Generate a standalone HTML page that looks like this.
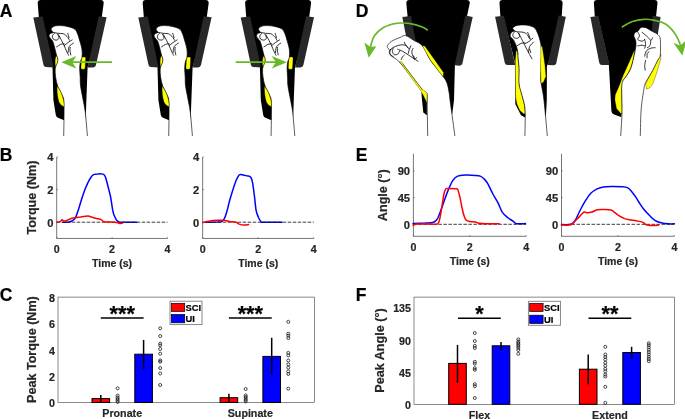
<!DOCTYPE html>
<html><head><meta charset="utf-8"><title>Figure</title>
<style>
html,body{margin:0;padding:0;background:#fff;}
svg{display:block;font-family:"Liberation Sans",sans-serif;font-weight:bold;}
</style></head><body>
<svg width="685" height="419" viewBox="0 0 685 419">
<rect width="685" height="419" fill="#fff"/>
<defs><g id="devA">
<path d="M37.7,3 Q37.7,0 40.7,0 L100.7,0 Q103.7,0 103.7,3 L101.8,17 L88,66 L87.6,67 L85.8,116 L85.6,119.6 L63.5,119.9 L58,117.7 Q56.2,117 55.8,115 L53.4,100 L52.5,67 L42,17 L38.8,17 Z" fill="#000"/>
<path d="M33.3,17.6 L42.7,16.4 L53.6,67.5 L46,67 Q44,67 43.5,65 Z" fill="#282828"/>
<path d="M98.7,16.3 L106.6,17.3 L96,65 Q95.5,67.4 93,67.4 L87.6,67.4 Z" fill="#282828"/>
<ellipse cx="56.6" cy="62.2" rx="1.5" ry="6.2" fill="#ffff00" stroke="#000" stroke-width="0.3"/>
<rect x="81.2" y="57" width="4.2" height="12.2" rx="1.2" fill="#ffff00" stroke="#000" stroke-width="0.3" transform="rotate(3 83.3 63)"/>
<path d="M63.7,136.0 C63.8,130.6 64.2,110.6 64.0,103.8 C63.8,97.0 63.2,97.9 62.2,95.0 C61.2,92.1 58.9,89.2 57.8,86.3 C56.7,83.4 56.1,80.4 55.7,77.5 C55.3,74.6 54.9,71.4 55.2,68.8 C55.5,66.2 57.2,63.8 57.6,62.0 C58.0,60.2 57.8,59.1 57.6,58.0 C57.4,56.9 57.1,57.1 56.6,55.3 C56.1,53.5 55.1,49.4 54.5,47.0 C53.9,44.6 53.3,42.5 52.7,41.2 C52.1,39.9 51.5,39.9 50.9,39.0 C50.3,38.1 49.2,36.8 49.1,35.9 C49.0,35.0 49.8,34.1 50.5,33.5 C51.2,32.9 52.9,32.9 53.1,32.4 C53.3,31.9 51.9,31.1 51.6,30.5 C51.3,29.9 51.0,29.2 51.3,28.6 C51.6,28.0 52.4,27.1 53.5,26.6 C54.6,26.1 55.9,25.7 58.0,25.6 C60.1,25.5 63.4,25.7 66.0,26.2 C68.6,26.7 71.9,27.5 73.8,28.6 C75.7,29.7 76.2,30.9 77.2,33.0 C78.2,35.1 79.0,38.3 79.8,41.0 C80.6,43.7 81.5,46.3 81.9,49.0 C82.3,51.7 82.3,54.8 82.0,57.0 C81.7,59.2 80.7,60.0 80.3,62.0 C79.9,64.0 79.7,66.1 79.7,68.8 C79.7,71.5 80.1,75.1 80.2,78.0 C80.3,80.9 80.1,82.6 80.6,86.3 C81.1,90.0 82.4,95.9 83.2,100.3 C84.0,104.7 84.6,106.5 85.3,112.5 C86.0,118.5 87.1,132.1 87.4,136.0" fill="#fff" stroke="#000" stroke-width="0.65"/>
<path d="M57,86.3 C57,92 57.5,98 59,102 C60.5,105 62.5,106.4 64,106.4 L64,103.8 C63.5,98 61,91 57,86.3Z" fill="#ffff00" stroke="#000" stroke-width="0.3"/>
<path d="M53.1,32.4 C53.9,32.5 56.3,33.0 58.0,33.3 C59.7,33.5 61.9,33.3 63.3,33.7 C64.6,34.1 65.1,34.8 65.9,35.5 C66.7,36.1 67.5,36.9 68.1,37.7 C68.7,38.5 69.2,39.9 69.5,40.3" fill="none" stroke="#000" stroke-width="0.8" stroke-linecap="round"/>
<path d="M58.4,34.6 C58.9,35.5 60.5,38.5 61.5,40.3 C62.5,42.2 63.3,43.9 64.2,45.6 C65.0,47.4 65.6,49.3 66.4,50.9 C67.1,52.5 68.2,54.6 68.6,55.3" fill="none" stroke="#000" stroke-width="0.8" stroke-linecap="round"/>
<path d="M56.6,46.9 C57.3,46.5 59.4,44.8 60.6,44.3 C61.9,43.8 63.6,43.9 64.2,43.9" fill="none" stroke="#000" stroke-width="0.8" stroke-linecap="round"/>
<path d="M64.2,45.6 C64.8,45.1 66.8,43.5 68.1,42.5 C69.5,41.6 71.4,40.3 72.1,39.9" fill="none" stroke="#000" stroke-width="0.8" stroke-linecap="round"/>
<path d="M68.1,52.7 C68.2,51.9 68.3,49.4 68.6,48.3 C68.9,47.1 69.1,46.5 69.9,45.6 C70.7,44.8 72.8,43.6 73.4,43.1" fill="none" stroke="#000" stroke-width="0.8" stroke-linecap="round"/>
<path d="M70.8,54.9 C70.6,54.1 70.0,51.3 69.9,50.0 C69.8,48.8 70.3,47.8 70.3,47.4" fill="none" stroke="#000" stroke-width="0.8" stroke-linecap="round"/>
<path d="M67.7,33.3 C67.8,33.7 68.3,35.2 68.6,35.9 C68.8,36.6 68.9,37.4 69.0,37.7" fill="none" stroke="#000" stroke-width="0.8" stroke-linecap="round"/>
<path d="M54.6,33.1 C54.2,33.5 52.7,34.9 52.4,35.9 C52.2,36.9 52.5,38.3 53.1,39.0 C53.7,39.7 55.2,40.2 56.2,40.1 C57.2,40.1 58.5,39.3 58.9,38.6 C59.2,37.8 58.8,36.5 58.5,35.7 C58.2,35.0 57.3,34.4 57.1,34.1" fill="none" stroke="#000" stroke-width="0.8" stroke-linecap="round"/>
</g></defs>
<use href="#devA"/>
<use href="#devA" x="105"/>
<use href="#devA" x="207.4"/>
<path d="M112.0,62.2 L69.3,62.2" stroke="#68b828" stroke-width="1.7" fill="none"/><path d="M61.3,62.2 L76.3,55.9 L72.3,62.2 L76.3,68.5 Z" fill="#68b828"/>
<path d="M235.7,62.2 L278.8,62.2" stroke="#68b828" stroke-width="1.7" fill="none"/><path d="M286.8,62.2 L271.8,55.9 L275.8,62.2 L271.8,68.5 Z" fill="#68b828"/>
<g id="D1">
<path d="M406.3,3 Q406.3,0 409.3,0 L466.8,0 Q469.8,0 469.8,3 L467.1,15.8 L458,60 L454.9,65.3 L454,100.3 L452.2,114.3 L440,100 L420,50 L408,30 L407.6,16.6 Z" fill="#000"/>
<path d="M402.3,16.9 L411,16.1 L416,42 L406,36 Z" fill="#282828"/>
<path d="M465.4,15.6 L472.7,17 L462.4,63.6 Q461.9,65.7 459.5,65.7 L454.6,65.2 Z" fill="#282828"/>
<path d="M421.4,92 L422,100 L423.3,112.6 L426.9,115.2 L426.9,100 Z" fill="#000"/>
<path d="M454.9,136.0 C454.2,130.6 451.5,111.1 450.5,103.8 C449.5,96.5 449.7,95.8 449.0,92.0 C448.3,88.2 447.9,84.7 446.1,81.0 C444.3,77.3 440.6,73.5 438.0,70.0 C435.4,66.5 432.9,64.0 430.3,60.0 C427.7,56.0 425.2,49.1 422.5,45.9 C419.8,42.6 416.8,42.2 414.0,40.5 C411.2,38.8 407.9,36.1 405.6,35.6 C403.3,35.1 402.4,36.5 400.0,37.5 C397.6,38.5 393.6,39.9 391.5,41.3 C389.4,42.7 388.1,44.6 387.5,45.8 C386.9,47.0 387.6,47.7 388.0,48.4 C388.4,49.1 389.5,49.4 389.7,50.2 C389.9,51.0 388.9,52.2 389.3,53.3 C389.8,54.4 390.8,55.5 392.4,56.8 C393.9,58.1 395.7,58.2 398.6,61.2 C401.5,64.2 406.2,70.2 410.0,75.0 C413.8,79.8 418.8,86.8 421.6,89.8 C424.4,92.8 425.9,90.8 426.8,93.3 C427.7,95.8 427.1,97.9 427.2,105.0 C427.3,112.1 427.6,130.8 427.7,136.0" fill="#fff" stroke="#000" stroke-width="0.65"/>
<path d="M399.5,61.5 L401.5,61.8 L421.5,88.5 L427,92.8 L427,103 L421.4,91.5 Z" fill="#ffff00" stroke="#000" stroke-width="0.3"/>
<path d="M422.4,45.7 L424.8,46 L443.4,72.2 L443.2,77 L430.3,60 Z" fill="#ffff00" stroke="#000" stroke-width="0.3"/>
<path d="M402.5,63.5 L422.5,90" stroke="#000" stroke-width="0.4" fill="none"/>
<path d="M389.7,50.2 C390.3,49.7 391.8,48.3 393.3,47.5 C394.7,46.7 396.8,45.8 398.6,45.3 C400.3,44.9 402.5,44.7 403.9,44.9 C405.2,45.0 405.6,45.5 406.5,46.2 C407.4,46.9 408.7,48.4 409.2,48.9" fill="none" stroke="#000" stroke-width="0.8" stroke-linecap="round"/>
<path d="M391.0,49.3 C390.8,49.8 389.7,51.4 389.7,52.4 C389.7,53.4 390.5,54.8 391.0,55.5 C391.6,56.1 392.9,56.2 393.3,56.4" fill="none" stroke="#000" stroke-width="0.8" stroke-linecap="round"/>
<path d="M393.3,48.0 C393.1,48.6 392.2,50.4 392.4,51.5 C392.5,52.6 393.3,54.2 394.1,54.6 C395.0,55.0 396.7,54.8 397.7,54.2 C398.6,53.5 399.5,51.2 399.9,50.6" fill="none" stroke="#000" stroke-width="0.8" stroke-linecap="round"/>
<path d="M397.7,49.3 C398.6,49.7 401.1,50.5 403.0,51.5 C404.9,52.5 407.1,54.2 409.2,55.5 C411.2,56.8 413.9,58.5 415.3,59.5 C416.8,60.4 417.5,60.9 418.0,61.2" fill="none" stroke="#000" stroke-width="0.8" stroke-linecap="round"/>
<path d="M404.3,42.2 C404.5,42.7 405.0,43.9 405.6,44.9 C406.3,45.8 407.8,47.5 408.3,48.0" fill="none" stroke="#000" stroke-width="0.8" stroke-linecap="round"/>
<path d="M410.9,45.8 C410.6,46.4 409.6,48.5 409.2,49.7 C408.7,51.0 408.4,52.7 408.3,53.3" fill="none" stroke="#000" stroke-width="0.8" stroke-linecap="round"/>
<path d="M413.1,48.4 C412.9,48.9 411.9,50.3 411.8,51.5 C411.7,52.7 412.2,54.2 412.7,55.5 C413.1,56.8 414.2,58.8 414.5,59.5" fill="none" stroke="#000" stroke-width="0.8" stroke-linecap="round"/>
<path d="M401.2,59.5 C401.4,59.0 402.0,57.5 402.5,56.8 C403.0,56.1 404.0,55.3 404.3,55.0" fill="none" stroke="#000" stroke-width="0.8" stroke-linecap="round"/>
<path d="M413.6,55.9 C413.8,56.4 414.4,58.3 414.9,58.6 C415.4,58.9 416.4,57.8 416.7,57.7" fill="none" stroke="#000" stroke-width="0.8" stroke-linecap="round"/>
</g>
<path d="M427.8,30.3 C427.0,29.8 425.1,28.3 422.8,27.3 C420.5,26.3 417.2,25.1 413.9,24.4 C410.5,23.6 406.0,23.0 402.7,23.0 C399.3,22.9 396.9,23.0 393.5,23.8 C390.2,24.7 385.5,26.2 382.3,28.2 C379.2,30.2 376.5,32.9 374.6,35.6 C372.8,38.2 372.0,41.6 371.2,44.1 C370.4,46.7 370.3,49.7 370.1,50.8" fill="none" stroke="#68b828" stroke-width="1.7"/>
<path d="M368.7,57.8 L364.4,42.6 L370.5,47 L376.3,46.2 Z" fill="#68b828"/>
<g id="D2">
<path d="M499.5,3 Q499.5,0 502.5,0 L559.6,0 Q562.6,0 562.6,3 L561.7,16.5 L548,64 L546.9,66 L546.8,100 L545.9,116 L525.2,117.5 L521,115.2 L515.3,104 L515.3,64 L503.5,17 L500.4,16.5 Z" fill="#000"/>
<path d="M495.1,16.8 L503.9,15.7 L515.2,65 L507.5,65 Q505.3,65 504.8,63 Z" fill="#282828"/>
<path d="M558.7,15.4 L565.8,16.7 L556.2,63.5 Q555.7,65.2 553.5,65.2 L547.5,65 Z" fill="#282828"/>
<path d="M516.2,50.5 L517.6,51.5 L519.1,68.7 L519.1,84 L522,95.4 L524.5,105 L525.2,113.6 L523.9,113.9 L519.8,110.5 L516.9,104 L515.6,97 L515.3,60 Z" fill="#ffff00" stroke="#000" stroke-width="0.3"/>
<path d="M524.9,136.0 C525.0,132.3 525.3,118.8 525.2,113.6 C525.1,108.4 525.0,108.0 524.5,105.0 C524.0,102.0 522.9,98.9 522.0,95.4 C521.1,91.9 519.6,88.5 519.1,84.0 C518.6,79.5 519.3,73.2 519.1,68.7 C518.9,64.2 518.2,59.7 518.0,57.0 C517.8,54.3 518.2,54.5 517.9,52.6 C517.6,50.6 516.9,47.7 516.2,45.6 C515.4,43.4 514.5,41.5 513.5,39.9 C512.5,38.4 510.6,37.5 510.2,36.3 C509.9,35.0 510.7,33.3 511.4,32.4 C512.1,31.5 514.2,31.4 514.4,30.7 C514.6,29.9 512.2,28.9 512.7,28.0 C513.1,27.2 514.9,25.9 517.0,25.4 C519.2,24.9 523.0,24.7 525.8,25.1 C528.6,25.4 531.8,26.2 533.7,27.3 C535.6,28.5 536.0,29.7 537.0,31.9 C538.1,34.0 539.2,37.3 540.0,40.3 C540.8,43.3 541.3,46.6 541.6,49.9 C541.8,53.3 541.5,56.3 541.4,60.4 C541.3,64.6 540.8,71.2 540.8,75.0 C540.8,78.8 540.6,79.3 541.1,83.0 C541.6,86.7 542.8,91.1 543.6,97.3 C544.4,103.5 545.3,113.5 545.9,120.0 C546.5,126.5 547.1,133.3 547.3,136.0" fill="#fff" stroke="#000" stroke-width="0.65"/>
<path d="M540.8,46 L542.2,46.5 L543,51.5 L544.9,64.8 L545.9,76.3 L543.6,82 L541.1,83.5 L540.5,68.7 Z" fill="#ffff00" stroke="#000" stroke-width="0.3"/>
<path d="M514.4,31.2 C515.1,31.3 517.2,31.7 518.8,31.9 C520.4,32.1 522.6,31.9 524.1,32.4 C525.5,32.9 526.7,34.0 527.6,35.0 C528.4,36.1 529.0,38.0 529.3,38.5" fill="none" stroke="#000" stroke-width="0.8" stroke-linecap="round"/>
<path d="M518.8,33.3 C519.4,34.5 521.0,37.7 522.3,40.3 C523.6,42.9 525.1,46.0 526.7,49.1 C528.3,52.1 531.1,57.1 531.9,58.7" fill="none" stroke="#000" stroke-width="0.8" stroke-linecap="round"/>
<path d="M517.0,45.9 C517.7,45.5 519.6,43.9 520.9,43.4 C522.2,43.0 524.3,43.0 524.9,42.9" fill="none" stroke="#000" stroke-width="0.8" stroke-linecap="round"/>
<path d="M524.9,43.8 C525.7,43.4 528.0,42.1 529.3,41.2 C530.6,40.2 532.2,38.7 532.8,38.2" fill="none" stroke="#000" stroke-width="0.8" stroke-linecap="round"/>
<path d="M528.4,52.6 C528.6,51.5 528.8,48.2 529.7,46.4 C530.5,44.7 533.0,42.8 533.7,42.0" fill="none" stroke="#000" stroke-width="0.8" stroke-linecap="round"/>
<path d="M530.7,52.6 L529.7,49.1" fill="none" stroke="#000" stroke-width="0.8" stroke-linecap="round"/>
<path d="M527.6,32.4 C527.8,33.0 528.9,34.7 529.3,35.9 C529.7,37.1 530.0,38.8 530.2,39.4" fill="none" stroke="#000" stroke-width="0.8" stroke-linecap="round"/>
<path d="M515.1,31.4 C514.7,31.8 513.2,33.2 512.9,34.2 C512.7,35.2 513.0,36.6 513.6,37.3 C514.2,38.0 515.7,38.5 516.7,38.4 C517.7,38.4 519.0,37.6 519.4,36.9 C519.7,36.1 519.3,34.8 519.0,34.0 C518.7,33.3 517.8,32.7 517.6,32.4" fill="none" stroke="#000" stroke-width="0.8" stroke-linecap="round"/>
</g>
<g id="D3">
<path d="M593.9,3 Q593.9,0 596.9,0 L654.5,0 Q657.5,0 657.5,3 L656.1,16 L655,40 L640,60 L622,112.5 L621,117 L614,114.5 Q611.6,114 611.4,111 L608.8,63.5 L598,17 L594.8,16.5 Z" fill="#000"/>
<path d="M590.4,17.1 L598.3,16 L609.5,65 L602,65 Q599.8,65 599.3,63 Z" fill="#282828"/>
<path d="M652.6,15.6 L660.6,17 L657.2,38 L652,30 Z" fill="#282828"/>
<path d="M634.8,50 L633,60.5 L630.6,68.8 L626.5,76 L622.9,80.8 L621.7,88 L622,112.5 L621,113.8 L616.5,108.5 L614.9,100 L615.2,95 L619.3,85.5 L622.9,76 L628.8,62.9 L634.2,50.4 Z" fill="#ffff00" stroke="#000" stroke-width="0.3"/>
<path d="M661,54 L660.5,60 L657,72 L652.6,84.5 L649.5,88 L646.5,89 L645.6,83.6 L652.6,70.5 L657.9,60 Z" fill="#ffff00" stroke="#000" stroke-width="0.3"/>
<path d="M620.7,136.0 C620.9,132.1 621.8,120.5 622.0,112.5 C622.2,104.5 621.6,93.3 621.7,88.0 C621.9,82.7 622.1,82.8 622.9,80.8 C623.7,78.8 625.2,78.0 626.5,76.0 C627.8,74.0 629.5,71.4 630.6,68.8 C631.7,66.2 632.3,63.5 633.0,60.5 C633.7,57.5 634.6,53.4 635.1,50.8 C635.6,48.2 635.9,46.4 636.0,44.7 C636.0,42.9 636.0,41.8 635.6,40.3 C635.3,38.8 633.9,37.2 633.9,35.9 C633.8,34.6 634.4,33.1 635.1,32.4 C635.7,31.7 637.0,32.1 637.7,31.5 C638.4,31.0 638.7,29.6 639.5,28.9 C640.2,28.2 640.9,27.3 642.1,27.2 C643.3,27.0 644.7,27.3 646.5,28.0 C648.2,28.8 650.8,30.5 652.6,31.5 C654.4,32.6 656.3,33.1 657.5,34.2 C658.7,35.2 659.5,35.8 660.0,37.7 C660.5,39.6 660.5,42.5 660.5,45.6 C660.5,48.6 660.6,53.7 660.1,56.1 C659.7,58.5 659.2,57.6 657.9,60.0 C656.6,62.4 654.6,66.7 652.6,70.5 C650.6,74.3 647.1,79.6 645.6,82.8 C644.1,86.0 644.5,85.4 643.8,89.8 C643.1,94.2 641.8,101.3 641.2,109.0 C640.6,116.7 640.4,131.5 640.3,136.0" fill="#fff" stroke="#000" stroke-width="0.65"/>
<path d="M637.7,31.9 C638.0,32.6 639.5,34.7 639.5,35.9 C639.5,37.2 637.3,38.5 637.7,39.4 C638.1,40.3 640.9,41.2 642.1,41.2 C643.3,41.2 644.3,39.7 644.7,39.4" fill="none" stroke="#000" stroke-width="0.8" stroke-linecap="round"/>
<path d="M642.1,32.4 C642.7,32.8 644.6,34.2 645.6,35.0 C646.6,35.9 647.3,36.8 648.2,37.7 C649.1,38.5 650.1,40.3 650.8,40.3 C651.6,40.3 652.3,38.1 652.6,37.7" fill="none" stroke="#000" stroke-width="0.8" stroke-linecap="round"/>
<path d="M644.7,39.4 C644.9,40.3 645.6,43.2 645.6,44.7 C645.6,46.1 644.9,47.6 644.7,48.2" fill="none" stroke="#000" stroke-width="0.8" stroke-linecap="round"/>
<path d="M650.8,40.6 C650.7,41.5 650.6,44.4 650.0,45.6 C649.4,46.7 647.8,47.3 647.3,47.7" fill="none" stroke="#000" stroke-width="0.8" stroke-linecap="round"/>
<path d="M637.7,45.9 C638.4,45.8 640.9,45.2 642.1,45.2 C643.3,45.2 644.3,45.8 644.7,45.9" fill="none" stroke="#000" stroke-width="0.8" stroke-linecap="round"/>
<path d="M644.7,56.1 C645.0,55.2 645.4,52.1 646.5,50.8 C647.5,49.5 649.4,48.7 650.8,48.2 C652.3,47.7 654.5,47.7 655.2,47.7" fill="none" stroke="#000" stroke-width="0.8" stroke-linecap="round"/>
<path d="M647.0,57.8 C647.0,57.1 647.0,54.5 647.3,53.4 C647.7,52.4 648.8,52.0 649.1,51.7" fill="none" stroke="#000" stroke-width="0.8" stroke-linecap="round"/>
<path d="M645.6,60.4 C645.4,61.3 644.8,64.1 644.7,65.7 C644.7,67.3 645.2,69.3 645.2,70.1" fill="none" stroke="#000" stroke-width="0.8" stroke-linecap="round"/>
</g>
<path d="M621.8,27.2 C623.5,26.2 628.8,22.8 632.4,21.5 C636.1,20.2 639.9,19.5 643.7,19.3 C647.4,19.1 651.1,19.6 654.8,20.4 C658.5,21.2 662.8,22.3 666.0,24.3 C669.2,26.3 671.8,29.6 673.9,32.2 C676.0,34.8 677.3,37.7 678.4,40.0 C679.5,42.3 680.1,44.2 680.6,45.9 C681.1,47.6 681.2,49.3 681.3,49.9" fill="none" stroke="#68b828" stroke-width="1.7"/>
<path d="M682.3,55.5 L673.3,42.8 L680.2,45.8 L687,39.5 Z" fill="#68b828"/>
<text x="-0.2" y="16.9" font-size="17.50" text-anchor="start" fill="#000" stroke="#000" stroke-width="0.2">A</text>
<text x="-0.2" y="160.6" font-size="17.50" text-anchor="start" fill="#000" stroke="#000" stroke-width="0.2">B</text>
<text x="-0.2" y="301.2" font-size="17.50" text-anchor="start" fill="#000" stroke="#000" stroke-width="0.2">C</text>
<text x="355.7" y="17.0" font-size="17.50" text-anchor="start" fill="#000" stroke="#000" stroke-width="0.2">D</text>
<text x="355.7" y="160.6" font-size="17.50" text-anchor="start" fill="#000" stroke="#000" stroke-width="0.2">E</text>
<text x="355.7" y="301.2" font-size="17.50" text-anchor="start" fill="#000" stroke="#000" stroke-width="0.2">F</text>
<path d="M56.70,157.10 L56.70,238.45 L167.50,238.45" fill="none" stroke="#3c3c3c" stroke-width="0.7"/>
<path d="M56.70,157.00 h1.3" stroke="#3c3c3c" stroke-width="0.6"/>
<text x="53.4" y="161.4" font-size="11.20" text-anchor="end" fill="#262626" stroke="#262626" stroke-width="0.2">4</text>
<path d="M56.70,189.60 h1.3" stroke="#3c3c3c" stroke-width="0.6"/>
<text x="53.4" y="194.0" font-size="11.20" text-anchor="end" fill="#262626" stroke="#262626" stroke-width="0.2">2</text>
<path d="M56.70,222.20 h1.3" stroke="#3c3c3c" stroke-width="0.6"/>
<text x="53.4" y="226.6" font-size="11.20" text-anchor="end" fill="#262626" stroke="#262626" stroke-width="0.2">0</text>
<path d="M56.70,238.45 v-1.3" stroke="#3c3c3c" stroke-width="0.6"/>
<text x="56.7" y="253.4" font-size="10.70" text-anchor="middle" fill="#262626" stroke="#262626" stroke-width="0.2">0</text>
<path d="M112.10,238.45 v-1.3" stroke="#3c3c3c" stroke-width="0.6"/>
<text x="112.1" y="253.4" font-size="10.70" text-anchor="middle" fill="#262626" stroke="#262626" stroke-width="0.2">2</text>
<path d="M167.50,238.45 v-1.3" stroke="#3c3c3c" stroke-width="0.6"/>
<text x="167.5" y="253.4" font-size="10.70" text-anchor="middle" fill="#262626" stroke="#262626" stroke-width="0.2">4</text>
<text x="112.1" y="267.4" font-size="10.50" text-anchor="middle" fill="#262626" stroke="#262626" stroke-width="0.2">Time (s)</text>
<path d="M62.8,222.3 C63.8,222.3 67.4,222.4 69.0,222.1 C70.7,221.7 71.8,221.0 72.8,220.3 C73.9,219.6 74.5,219.3 75.3,217.8 C76.2,216.3 76.6,215.3 77.8,211.5 C79.1,207.8 81.2,200.0 82.9,195.2 C84.5,190.4 86.4,185.8 87.9,182.7 C89.3,179.5 90.6,177.8 91.6,176.4 C92.7,175.0 93.1,174.8 94.2,174.4 C95.2,174.0 96.5,173.9 97.9,173.9 C99.4,173.8 101.8,173.8 102.9,174.1 C104.1,174.5 104.3,174.7 104.9,175.9 C105.6,177.1 105.8,178.0 106.7,181.4 C107.6,184.8 109.4,191.4 110.5,196.5 C111.5,201.5 112.2,208.1 113.0,211.5 C113.7,215.0 114.4,215.8 115.0,217.3 C115.6,218.8 116.0,219.5 116.7,220.3 C117.5,221.1 118.2,221.7 119.3,222.1 C120.3,222.4 120.1,222.3 123.0,222.3 C126.0,222.4 134.5,222.3 136.8,222.3" fill="none" stroke="#0000ff" stroke-width="1.5" stroke-linejoin="round" stroke-linecap="round"/>
<path d="M56.7,222.20 L167.5,222.20" stroke="#1a1a1a" stroke-width="0.85" stroke-dasharray="3.5,1.5"/>
<path d="M57.2,222.3 C57.7,222.2 59.5,222.0 60.3,221.6 C61.1,221.2 61.4,219.9 62.0,219.8 C62.6,219.7 63.1,221.0 64.0,221.1 C64.9,221.2 66.3,220.6 67.3,220.3 C68.2,220.0 68.9,219.7 69.8,219.3 C70.7,218.9 71.1,218.4 72.8,218.1 C74.6,217.7 77.8,217.4 80.3,217.1 C82.9,216.7 86.0,216.1 87.9,216.1 C89.8,216.1 90.4,216.7 91.6,217.1 C92.9,217.4 93.9,217.9 95.4,218.3 C96.9,218.7 99.3,218.9 100.4,219.3 C101.6,219.7 101.8,220.2 102.4,220.6 C103.1,221.0 102.9,221.6 104.2,221.8 C105.5,222.1 108.4,222.0 110.5,222.1 C112.6,222.2 115.1,222.3 116.7,222.6 C118.4,222.8 119.5,223.5 120.5,223.6 C121.6,223.6 122.6,223.0 123.0,222.8" fill="none" stroke="#ff0000" stroke-width="1.5" stroke-linejoin="round" stroke-linecap="round"/>
<path d="M202.65,157.10 L202.65,238.45 L313.70,238.45" fill="none" stroke="#3c3c3c" stroke-width="0.7"/>
<path d="M202.65,157.00 h1.3" stroke="#3c3c3c" stroke-width="0.6"/>
<text x="199.3" y="161.4" font-size="11.20" text-anchor="end" fill="#262626" stroke="#262626" stroke-width="0.2">4</text>
<path d="M202.65,189.60 h1.3" stroke="#3c3c3c" stroke-width="0.6"/>
<text x="199.3" y="194.0" font-size="11.20" text-anchor="end" fill="#262626" stroke="#262626" stroke-width="0.2">2</text>
<path d="M202.65,222.20 h1.3" stroke="#3c3c3c" stroke-width="0.6"/>
<text x="199.3" y="226.6" font-size="11.20" text-anchor="end" fill="#262626" stroke="#262626" stroke-width="0.2">0</text>
<path d="M202.65,238.45 v-1.3" stroke="#3c3c3c" stroke-width="0.6"/>
<text x="202.7" y="253.4" font-size="10.70" text-anchor="middle" fill="#262626" stroke="#262626" stroke-width="0.2">0</text>
<path d="M258.18,238.45 v-1.3" stroke="#3c3c3c" stroke-width="0.6"/>
<text x="258.2" y="253.4" font-size="10.70" text-anchor="middle" fill="#262626" stroke="#262626" stroke-width="0.2">2</text>
<path d="M313.70,238.45 v-1.3" stroke="#3c3c3c" stroke-width="0.6"/>
<text x="313.7" y="253.4" font-size="10.70" text-anchor="middle" fill="#262626" stroke="#262626" stroke-width="0.2">4</text>
<text x="258.2" y="267.4" font-size="10.50" text-anchor="middle" fill="#262626" stroke="#262626" stroke-width="0.2">Time (s)</text>
<path d="M205.9,222.3 C207.8,222.3 214.5,222.2 217.2,222.1 C219.9,221.9 221.0,222.0 222.2,221.3 C223.5,220.6 223.9,219.7 224.7,217.8 C225.6,216.0 226.4,213.2 227.2,210.3 C228.1,207.3 228.5,204.6 229.7,200.2 C231.0,195.8 233.4,187.8 234.8,183.9 C236.1,180.1 236.9,178.7 237.8,177.1 C238.6,175.6 238.8,175.0 239.8,174.6 C240.8,174.3 242.3,174.9 243.6,175.1 C244.8,175.3 246.1,175.5 247.3,175.9 C248.5,176.2 249.7,176.2 250.6,177.1 C251.4,178.1 251.7,178.4 252.3,181.4 C253.0,184.4 253.7,190.4 254.3,195.2 C255.0,200.0 255.4,206.5 256.1,210.3 C256.8,214.0 257.8,215.9 258.6,217.8 C259.5,219.7 260.3,221.1 261.1,221.8 C262.0,222.6 260.2,222.2 263.6,222.3 C267.1,222.4 278.9,222.3 282.0,222.3" fill="none" stroke="#0000ff" stroke-width="1.5" stroke-linejoin="round" stroke-linecap="round"/>
<path d="M202.7,222.20 L313.7,222.20" stroke="#1a1a1a" stroke-width="0.85" stroke-dasharray="3.5,1.5"/>
<path d="M202.9,222.6 C204.0,222.3 207.3,221.4 209.7,221.1 C212.0,220.7 214.9,220.4 217.2,220.3 C219.5,220.2 221.4,220.1 223.5,220.3 C225.6,220.5 227.7,221.2 229.7,221.6 C231.8,221.9 234.4,221.9 236.0,222.3 C237.6,222.7 238.0,223.6 239.3,224.1 C240.5,224.5 242.0,225.0 243.6,225.1 C245.1,225.2 247.7,224.7 248.6,224.6" fill="none" stroke="#ff0000" stroke-width="1.5" stroke-linejoin="round" stroke-linecap="round"/>
<text x="35.7" y="197.5" font-size="12.60" text-anchor="middle" fill="#262626" stroke="#262626" stroke-width="0.2" transform="rotate(-90 35.7 197.5)">Torque (Nm)</text>
<path d="M413.40,153.80 L413.40,236.30 L526.20,236.30" fill="none" stroke="#3c3c3c" stroke-width="0.7"/>
<path d="M413.40,170.90 h1.3" stroke="#3c3c3c" stroke-width="0.6"/>
<text x="410.1" y="175.3" font-size="11.20" text-anchor="end" fill="#262626" stroke="#262626" stroke-width="0.2">90</text>
<path d="M413.40,197.60 h1.3" stroke="#3c3c3c" stroke-width="0.6"/>
<text x="410.1" y="202.0" font-size="11.20" text-anchor="end" fill="#262626" stroke="#262626" stroke-width="0.2">45</text>
<path d="M413.40,224.30 h1.3" stroke="#3c3c3c" stroke-width="0.6"/>
<text x="410.1" y="228.7" font-size="11.20" text-anchor="end" fill="#262626" stroke="#262626" stroke-width="0.2">0</text>
<path d="M413.40,236.30 v-1.3" stroke="#3c3c3c" stroke-width="0.6"/>
<text x="413.4" y="250.8" font-size="10.70" text-anchor="middle" fill="#262626" stroke="#262626" stroke-width="0.2">0</text>
<path d="M469.80,236.30 v-1.3" stroke="#3c3c3c" stroke-width="0.6"/>
<text x="469.8" y="250.8" font-size="10.70" text-anchor="middle" fill="#262626" stroke="#262626" stroke-width="0.2">2</text>
<path d="M526.20,236.30 v-1.3" stroke="#3c3c3c" stroke-width="0.6"/>
<text x="526.2" y="250.8" font-size="10.70" text-anchor="middle" fill="#262626" stroke="#262626" stroke-width="0.2">4</text>
<text x="469.8" y="264.6" font-size="10.50" text-anchor="middle" fill="#262626" stroke="#262626" stroke-width="0.2">Time (s)</text>
<path d="M413.1,223.6 C415.1,223.5 421.8,223.2 425.1,223.1 C428.4,222.9 430.9,223.0 432.6,222.6 C434.4,222.2 434.7,221.7 435.7,220.8 C436.6,219.9 437.0,219.9 438.2,217.3 C439.3,214.7 441.1,209.6 442.7,205.3 C444.3,200.9 446.0,195.5 447.7,191.4 C449.4,187.3 451.1,183.2 452.7,180.7 C454.3,178.1 455.2,177.3 457.2,176.4 C459.3,175.5 462.3,175.3 465.3,175.1 C468.3,175.0 472.8,175.2 475.3,175.4 C477.8,175.5 478.9,175.5 480.3,176.1 C481.8,176.7 482.9,177.6 484.1,178.9 C485.4,180.2 486.4,181.4 487.9,183.9 C489.3,186.4 491.2,190.8 492.9,194.0 C494.6,197.1 496.3,199.7 497.9,202.7 C499.5,205.8 500.8,209.8 502.4,212.3 C504.1,214.8 506.2,216.3 508.0,217.8 C509.7,219.3 511.6,220.1 513.0,221.1 C514.3,222.0 514.7,223.1 516.0,223.6 C517.2,224.0 518.9,223.8 520.5,223.8 C522.1,223.8 524.7,223.6 525.5,223.6" fill="none" stroke="#0000ff" stroke-width="1.5" stroke-linejoin="round" stroke-linecap="round"/>
<path d="M413.4,224.30 L526.2,224.30" stroke="#1a1a1a" stroke-width="0.85" stroke-dasharray="3.5,1.5"/>
<path d="M413.1,225.3 C413.8,225.1 414.7,224.3 417.6,224.1 C420.4,223.9 426.8,224.1 430.1,224.1 C433.5,224.0 436.1,224.7 437.7,223.8 C439.3,223.0 439.0,221.7 439.7,219.1 C440.3,216.4 441.0,212.0 441.7,207.8 C442.4,203.6 443.3,197.1 443.9,194.0 C444.6,190.9 445.1,190.1 445.7,189.2 C446.3,188.3 445.9,188.5 447.7,188.4 C449.5,188.4 454.7,188.3 456.5,188.7 C458.2,189.1 457.6,189.0 458.2,190.7 C458.9,192.4 459.6,195.9 460.3,199.0 C460.9,202.0 461.6,206.1 462.3,209.0 C462.9,212.0 463.6,214.7 464.3,216.6 C464.9,218.4 465.3,219.5 466.3,220.3 C467.3,221.2 468.8,221.3 470.3,221.6 C471.8,221.9 473.9,221.8 475.3,222.1 C476.8,222.4 477.4,223.0 479.1,223.3 C480.8,223.6 482.0,223.8 485.4,223.8 C488.7,223.9 496.9,223.8 499.2,223.8" fill="none" stroke="#ff0000" stroke-width="1.5" stroke-linejoin="round" stroke-linecap="round"/>
<path d="M561.50,153.80 L561.50,236.30 L674.40,236.30" fill="none" stroke="#3c3c3c" stroke-width="0.7"/>
<path d="M561.50,170.90 h1.3" stroke="#3c3c3c" stroke-width="0.6"/>
<text x="558.2" y="175.3" font-size="11.20" text-anchor="end" fill="#262626" stroke="#262626" stroke-width="0.2">90</text>
<path d="M561.50,197.60 h1.3" stroke="#3c3c3c" stroke-width="0.6"/>
<text x="558.2" y="202.0" font-size="11.20" text-anchor="end" fill="#262626" stroke="#262626" stroke-width="0.2">45</text>
<path d="M561.50,224.30 h1.3" stroke="#3c3c3c" stroke-width="0.6"/>
<text x="558.2" y="228.7" font-size="11.20" text-anchor="end" fill="#262626" stroke="#262626" stroke-width="0.2">0</text>
<path d="M561.50,236.30 v-1.3" stroke="#3c3c3c" stroke-width="0.6"/>
<text x="561.5" y="250.8" font-size="10.70" text-anchor="middle" fill="#262626" stroke="#262626" stroke-width="0.2">0</text>
<path d="M617.95,236.30 v-1.3" stroke="#3c3c3c" stroke-width="0.6"/>
<text x="618.0" y="250.8" font-size="10.70" text-anchor="middle" fill="#262626" stroke="#262626" stroke-width="0.2">2</text>
<path d="M674.40,236.30 v-1.3" stroke="#3c3c3c" stroke-width="0.6"/>
<text x="674.4" y="250.8" font-size="10.70" text-anchor="middle" fill="#262626" stroke="#262626" stroke-width="0.2">4</text>
<text x="618.0" y="264.6" font-size="10.50" text-anchor="middle" fill="#262626" stroke="#262626" stroke-width="0.2">Time (s)</text>
<path d="M561.5,224.8 C562.8,224.8 567.5,224.9 569.5,224.6 C571.5,224.3 572.1,223.9 573.3,222.8 C574.4,221.8 575.0,220.6 576.3,218.3 C577.5,216.0 579.2,212.0 580.8,209.0 C582.4,206.0 584.1,202.9 585.8,200.2 C587.5,197.6 588.9,195.1 590.8,193.2 C592.7,191.3 595.0,190.0 597.1,188.9 C599.2,187.9 600.7,187.3 603.4,186.9 C606.1,186.5 610.1,186.5 613.4,186.4 C616.8,186.4 621.0,186.4 623.5,186.7 C625.9,186.9 626.7,187.3 628.0,187.9 C629.2,188.6 629.9,189.4 631.0,190.7 C632.1,192.0 633.5,193.9 634.8,195.7 C636.0,197.5 637.1,199.3 638.5,201.5 C640.0,203.7 641.7,206.6 643.6,209.0 C645.4,211.4 647.9,213.9 649.8,215.8 C651.7,217.7 653.0,219.1 654.9,220.3 C656.7,221.5 658.8,222.2 661.1,222.8 C663.4,223.4 666.4,223.7 668.7,223.8 C670.9,224.0 673.5,223.8 674.4,223.8" fill="none" stroke="#0000ff" stroke-width="1.5" stroke-linejoin="round" stroke-linecap="round"/>
<path d="M561.5,224.30 L674.4,224.30" stroke="#1a1a1a" stroke-width="0.85" stroke-dasharray="3.5,1.5"/>
<path d="M561.5,225.1 C563.0,225.0 568.6,225.4 570.7,224.8 C572.9,224.3 573.0,223.0 574.5,221.6 C576.0,220.2 577.9,218.1 579.5,216.6 C581.1,215.0 582.8,212.7 584.1,212.0 C585.3,211.4 585.7,212.8 587.1,212.8 C588.4,212.8 590.4,212.5 592.1,212.0 C593.8,211.5 595.2,210.2 597.1,209.8 C599.0,209.4 601.1,209.5 603.4,209.5 C605.7,209.6 609.2,209.6 610.9,210.0 C612.7,210.4 612.7,210.9 613.9,211.8 C615.2,212.7 616.6,214.2 618.4,215.3 C620.2,216.4 622.8,217.8 624.7,218.6 C626.6,219.3 627.9,219.4 629.7,219.8 C631.6,220.2 633.9,220.4 636.0,220.8 C638.1,221.2 640.7,221.5 642.3,222.1 C643.9,222.7 644.5,223.8 645.6,224.3 C646.6,224.9 646.6,225.2 648.6,225.3 C650.5,225.5 655.7,225.4 657.4,225.3 C659.0,225.3 658.4,224.9 658.6,224.8" fill="none" stroke="#ff0000" stroke-width="1.5" stroke-linejoin="round" stroke-linecap="round"/>
<text x="387.5" y="195.2" font-size="12.60" text-anchor="middle" fill="#262626" stroke="#262626" stroke-width="0.2" transform="rotate(-90 387.5 195.2)">Angle (°)</text>
<rect x="58.00" y="297.10" width="256.50" height="105.40" fill="none" stroke="#3c3c3c" stroke-width="0.6"/>
<text x="55.0" y="301.6" font-size="10.70" text-anchor="end" fill="#262626" stroke="#262626" stroke-width="0.2">8</text>
<text x="55.0" y="328.0" font-size="10.70" text-anchor="end" fill="#262626" stroke="#262626" stroke-width="0.2">6</text>
<text x="55.0" y="354.5" font-size="10.70" text-anchor="end" fill="#262626" stroke="#262626" stroke-width="0.2">4</text>
<text x="55.0" y="380.9" font-size="10.70" text-anchor="end" fill="#262626" stroke="#262626" stroke-width="0.2">2</text>
<text x="55.0" y="407.3" font-size="10.70" text-anchor="end" fill="#262626" stroke="#262626" stroke-width="0.2">0</text>
<rect x="92.00" y="398.60" width="17.6" height="3.90" fill="#ff0000" stroke="#000" stroke-width="1"/>
<path d="M100.80,395.10 V402.40" stroke="#000" stroke-width="1.5"/>
<rect x="134.80" y="354.20" width="17.6" height="48.30" fill="#0000ff" stroke="#000" stroke-width="1"/>
<path d="M143.60,339.90 V369.70" stroke="#000" stroke-width="1.5"/>
<path d="M100.80,318.10 H143.60" stroke="#000" stroke-width="1.5"/>
<text x="122.2" y="321.1" font-size="21.70" text-anchor="middle" fill="#000" stroke="#000" stroke-width="0.2">***</text>
<circle cx="117.6" cy="388.3" r="1.5" fill="none" stroke="#1a1a1a" stroke-width="0.8"/>
<circle cx="117.6" cy="395.6" r="1.5" fill="none" stroke="#1a1a1a" stroke-width="0.8"/>
<circle cx="117.6" cy="397.5" r="1.5" fill="none" stroke="#1a1a1a" stroke-width="0.8"/>
<circle cx="117.6" cy="399.0" r="1.5" fill="none" stroke="#1a1a1a" stroke-width="0.8"/>
<circle cx="117.6" cy="400.5" r="1.5" fill="none" stroke="#1a1a1a" stroke-width="0.8"/>
<circle cx="117.6" cy="402.0" r="1.5" fill="none" stroke="#1a1a1a" stroke-width="0.8"/>
<circle cx="160.2" cy="328.3" r="1.5" fill="none" stroke="#1a1a1a" stroke-width="0.8"/>
<circle cx="160.2" cy="336.1" r="1.5" fill="none" stroke="#1a1a1a" stroke-width="0.8"/>
<circle cx="160.2" cy="343.6" r="1.5" fill="none" stroke="#1a1a1a" stroke-width="0.8"/>
<circle cx="160.2" cy="345.4" r="1.5" fill="none" stroke="#1a1a1a" stroke-width="0.8"/>
<circle cx="160.2" cy="349.1" r="1.5" fill="none" stroke="#1a1a1a" stroke-width="0.8"/>
<circle cx="160.2" cy="353.7" r="1.5" fill="none" stroke="#1a1a1a" stroke-width="0.8"/>
<circle cx="160.2" cy="360.4" r="1.5" fill="none" stroke="#1a1a1a" stroke-width="0.8"/>
<circle cx="160.2" cy="361.7" r="1.5" fill="none" stroke="#1a1a1a" stroke-width="0.8"/>
<circle cx="160.2" cy="368.0" r="1.5" fill="none" stroke="#1a1a1a" stroke-width="0.8"/>
<circle cx="160.2" cy="373.5" r="1.5" fill="none" stroke="#1a1a1a" stroke-width="0.8"/>
<circle cx="160.2" cy="385.0" r="1.5" fill="none" stroke="#1a1a1a" stroke-width="0.8"/>
<text x="122.2" y="416.6" font-size="10.70" text-anchor="middle" fill="#262626" stroke="#262626" stroke-width="0.2">Pronate</text>
<rect x="220.10" y="397.70" width="17.6" height="4.80" fill="#ff0000" stroke="#000" stroke-width="1"/>
<path d="M228.90,393.80 V402.50" stroke="#000" stroke-width="1.5"/>
<rect x="262.90" y="356.40" width="17.6" height="46.10" fill="#0000ff" stroke="#000" stroke-width="1"/>
<path d="M271.70,337.80 V374.60" stroke="#000" stroke-width="1.5"/>
<path d="M228.90,318.10 H271.70" stroke="#000" stroke-width="1.5"/>
<text x="250.3" y="321.1" font-size="21.70" text-anchor="middle" fill="#000" stroke="#000" stroke-width="0.2">***</text>
<circle cx="245.7" cy="389.0" r="1.5" fill="none" stroke="#1a1a1a" stroke-width="0.8"/>
<circle cx="245.7" cy="395.4" r="1.5" fill="none" stroke="#1a1a1a" stroke-width="0.8"/>
<circle cx="245.7" cy="397.0" r="1.5" fill="none" stroke="#1a1a1a" stroke-width="0.8"/>
<circle cx="245.7" cy="398.5" r="1.5" fill="none" stroke="#1a1a1a" stroke-width="0.8"/>
<circle cx="245.7" cy="400.0" r="1.5" fill="none" stroke="#1a1a1a" stroke-width="0.8"/>
<circle cx="245.7" cy="401.5" r="1.5" fill="none" stroke="#1a1a1a" stroke-width="0.8"/>
<circle cx="288.3" cy="321.8" r="1.5" fill="none" stroke="#1a1a1a" stroke-width="0.8"/>
<circle cx="288.3" cy="333.7" r="1.5" fill="none" stroke="#1a1a1a" stroke-width="0.8"/>
<circle cx="288.3" cy="335.6" r="1.5" fill="none" stroke="#1a1a1a" stroke-width="0.8"/>
<circle cx="288.3" cy="338.1" r="1.5" fill="none" stroke="#1a1a1a" stroke-width="0.8"/>
<circle cx="288.3" cy="352.9" r="1.5" fill="none" stroke="#1a1a1a" stroke-width="0.8"/>
<circle cx="288.3" cy="355.4" r="1.5" fill="none" stroke="#1a1a1a" stroke-width="0.8"/>
<circle cx="288.3" cy="360.5" r="1.5" fill="none" stroke="#1a1a1a" stroke-width="0.8"/>
<circle cx="288.3" cy="364.4" r="1.5" fill="none" stroke="#1a1a1a" stroke-width="0.8"/>
<circle cx="288.3" cy="367.6" r="1.5" fill="none" stroke="#1a1a1a" stroke-width="0.8"/>
<circle cx="288.3" cy="371.4" r="1.5" fill="none" stroke="#1a1a1a" stroke-width="0.8"/>
<circle cx="288.3" cy="374.0" r="1.5" fill="none" stroke="#1a1a1a" stroke-width="0.8"/>
<circle cx="288.3" cy="388.7" r="1.5" fill="none" stroke="#1a1a1a" stroke-width="0.8"/>
<text x="250.3" y="416.6" font-size="10.70" text-anchor="middle" fill="#262626" stroke="#262626" stroke-width="0.2">Supinate</text>
<text x="36.2" y="349.6" font-size="12.60" text-anchor="middle" fill="#262626" stroke="#262626" stroke-width="0.2" transform="rotate(-90 36.2 349.6)">Peak Torque (Nm)</text>
<rect x="170.0" y="301.2" width="32" height="23.4" fill="#fff" stroke="#7a7a7a" stroke-width="0.9"/>
<rect x="171.3" y="303.3" width="13.4" height="8.1" fill="#ff0000" stroke="#000" stroke-width="0.7"/>
<rect x="171.3" y="314.5" width="13.4" height="8.3" fill="#0000ff" stroke="#000" stroke-width="0.7"/>
<text x="185.5" y="310.8" font-size="9.40" text-anchor="start" fill="#000" stroke="#000" stroke-width="0.2">SCI</text>
<text x="185.5" y="321.8" font-size="9.40" text-anchor="start" fill="#000" stroke="#000" stroke-width="0.2">UI</text>
<rect x="414.00" y="297.10" width="260.50" height="107.20" fill="none" stroke="#3c3c3c" stroke-width="0.6"/>
<text x="411.0" y="312.4" font-size="10.70" text-anchor="end" fill="#262626" stroke="#262626" stroke-width="0.2">135</text>
<text x="411.0" y="344.6" font-size="10.70" text-anchor="end" fill="#262626" stroke="#262626" stroke-width="0.2">90</text>
<text x="411.0" y="376.9" font-size="10.70" text-anchor="end" fill="#262626" stroke="#262626" stroke-width="0.2">45</text>
<text x="411.0" y="409.1" font-size="10.70" text-anchor="end" fill="#262626" stroke="#262626" stroke-width="0.2">0</text>
<rect x="448.70" y="363.40" width="17.6" height="40.90" fill="#ff0000" stroke="#000" stroke-width="1"/>
<path d="M457.50,344.90 V382.60" stroke="#000" stroke-width="1.5"/>
<rect x="492.20" y="345.80" width="17.6" height="58.50" fill="#0000ff" stroke="#000" stroke-width="1"/>
<path d="M501.00,342.00 V350.00" stroke="#000" stroke-width="1.5"/>
<path d="M458.00,318.30 H500.80" stroke="#000" stroke-width="1.5"/>
<text x="479.4" y="321.3" font-size="21.70" text-anchor="middle" fill="#000" stroke="#000" stroke-width="0.2">*</text>
<circle cx="474.8" cy="333.0" r="1.5" fill="none" stroke="#1a1a1a" stroke-width="0.8"/>
<circle cx="474.8" cy="341.0" r="1.5" fill="none" stroke="#1a1a1a" stroke-width="0.8"/>
<circle cx="474.8" cy="345.8" r="1.5" fill="none" stroke="#1a1a1a" stroke-width="0.8"/>
<circle cx="474.8" cy="348.0" r="1.5" fill="none" stroke="#1a1a1a" stroke-width="0.8"/>
<circle cx="474.8" cy="361.8" r="1.5" fill="none" stroke="#1a1a1a" stroke-width="0.8"/>
<circle cx="474.8" cy="363.7" r="1.5" fill="none" stroke="#1a1a1a" stroke-width="0.8"/>
<circle cx="474.8" cy="368.2" r="1.5" fill="none" stroke="#1a1a1a" stroke-width="0.8"/>
<circle cx="474.8" cy="369.8" r="1.5" fill="none" stroke="#1a1a1a" stroke-width="0.8"/>
<circle cx="474.8" cy="384.2" r="1.5" fill="none" stroke="#1a1a1a" stroke-width="0.8"/>
<circle cx="474.8" cy="386.2" r="1.5" fill="none" stroke="#1a1a1a" stroke-width="0.8"/>
<circle cx="474.8" cy="398.0" r="1.5" fill="none" stroke="#1a1a1a" stroke-width="0.8"/>
<circle cx="518.3" cy="339.4" r="1.5" fill="none" stroke="#1a1a1a" stroke-width="0.8"/>
<circle cx="518.3" cy="341.5" r="1.5" fill="none" stroke="#1a1a1a" stroke-width="0.8"/>
<circle cx="518.3" cy="343.0" r="1.5" fill="none" stroke="#1a1a1a" stroke-width="0.8"/>
<circle cx="518.3" cy="344.5" r="1.5" fill="none" stroke="#1a1a1a" stroke-width="0.8"/>
<circle cx="518.3" cy="346.0" r="1.5" fill="none" stroke="#1a1a1a" stroke-width="0.8"/>
<circle cx="518.3" cy="347.8" r="1.5" fill="none" stroke="#1a1a1a" stroke-width="0.8"/>
<circle cx="518.3" cy="350.0" r="1.5" fill="none" stroke="#1a1a1a" stroke-width="0.8"/>
<circle cx="518.3" cy="353.8" r="1.5" fill="none" stroke="#1a1a1a" stroke-width="0.8"/>
<text x="479.4" y="418.6" font-size="10.70" text-anchor="middle" fill="#262626" stroke="#262626" stroke-width="0.2">Flex</text>
<rect x="579.40" y="369.20" width="17.6" height="35.10" fill="#ff0000" stroke="#000" stroke-width="1"/>
<path d="M588.20,354.50 V384.20" stroke="#000" stroke-width="1.5"/>
<rect x="622.80" y="352.50" width="17.6" height="51.80" fill="#0000ff" stroke="#000" stroke-width="1"/>
<path d="M631.60,346.80 V358.60" stroke="#000" stroke-width="1.5"/>
<path d="M588.50,318.30 H631.30" stroke="#000" stroke-width="1.5"/>
<text x="609.9" y="321.3" font-size="21.70" text-anchor="middle" fill="#000" stroke="#000" stroke-width="0.2">**</text>
<circle cx="605.3" cy="346.8" r="1.5" fill="none" stroke="#1a1a1a" stroke-width="0.8"/>
<circle cx="605.3" cy="354.5" r="1.5" fill="none" stroke="#1a1a1a" stroke-width="0.8"/>
<circle cx="605.3" cy="357.0" r="1.5" fill="none" stroke="#1a1a1a" stroke-width="0.8"/>
<circle cx="605.3" cy="359.6" r="1.5" fill="none" stroke="#1a1a1a" stroke-width="0.8"/>
<circle cx="605.3" cy="362.8" r="1.5" fill="none" stroke="#1a1a1a" stroke-width="0.8"/>
<circle cx="605.3" cy="365.7" r="1.5" fill="none" stroke="#1a1a1a" stroke-width="0.8"/>
<circle cx="605.3" cy="368.9" r="1.5" fill="none" stroke="#1a1a1a" stroke-width="0.8"/>
<circle cx="605.3" cy="371.4" r="1.5" fill="none" stroke="#1a1a1a" stroke-width="0.8"/>
<circle cx="605.3" cy="374.6" r="1.5" fill="none" stroke="#1a1a1a" stroke-width="0.8"/>
<circle cx="605.3" cy="376.5" r="1.5" fill="none" stroke="#1a1a1a" stroke-width="0.8"/>
<circle cx="605.3" cy="386.8" r="1.5" fill="none" stroke="#1a1a1a" stroke-width="0.8"/>
<circle cx="605.3" cy="402.8" r="1.5" fill="none" stroke="#1a1a1a" stroke-width="0.8"/>
<circle cx="648.8" cy="343.3" r="1.5" fill="none" stroke="#1a1a1a" stroke-width="0.8"/>
<circle cx="648.8" cy="345.2" r="1.5" fill="none" stroke="#1a1a1a" stroke-width="0.8"/>
<circle cx="648.8" cy="347.4" r="1.5" fill="none" stroke="#1a1a1a" stroke-width="0.8"/>
<circle cx="648.8" cy="349.7" r="1.5" fill="none" stroke="#1a1a1a" stroke-width="0.8"/>
<circle cx="648.8" cy="352.2" r="1.5" fill="none" stroke="#1a1a1a" stroke-width="0.8"/>
<circle cx="648.8" cy="354.5" r="1.5" fill="none" stroke="#1a1a1a" stroke-width="0.8"/>
<circle cx="648.8" cy="356.7" r="1.5" fill="none" stroke="#1a1a1a" stroke-width="0.8"/>
<circle cx="648.8" cy="359.0" r="1.5" fill="none" stroke="#1a1a1a" stroke-width="0.8"/>
<circle cx="648.8" cy="361.2" r="1.5" fill="none" stroke="#1a1a1a" stroke-width="0.8"/>
<text x="609.9" y="418.6" font-size="10.70" text-anchor="middle" fill="#262626" stroke="#262626" stroke-width="0.2">Extend</text>
<text x="384.3" y="350.5" font-size="12.60" text-anchor="middle" fill="#262626" stroke="#262626" stroke-width="0.2" transform="rotate(-90 384.3 350.5)">Peak Angle (°)</text>
<rect x="528.4" y="301.3" width="32" height="24.0" fill="#fff" stroke="#7a7a7a" stroke-width="0.9"/>
<rect x="529.7" y="303.4" width="13.4" height="8.1" fill="#ff0000" stroke="#000" stroke-width="0.7"/>
<rect x="529.7" y="315.2" width="13.4" height="8.3" fill="#0000ff" stroke="#000" stroke-width="0.7"/>
<text x="543.9" y="310.9" font-size="9.40" text-anchor="start" fill="#000" stroke="#000" stroke-width="0.2">SCI</text>
<text x="543.9" y="322.5" font-size="9.40" text-anchor="start" fill="#000" stroke="#000" stroke-width="0.2">UI</text>
</svg>
</body></html>
